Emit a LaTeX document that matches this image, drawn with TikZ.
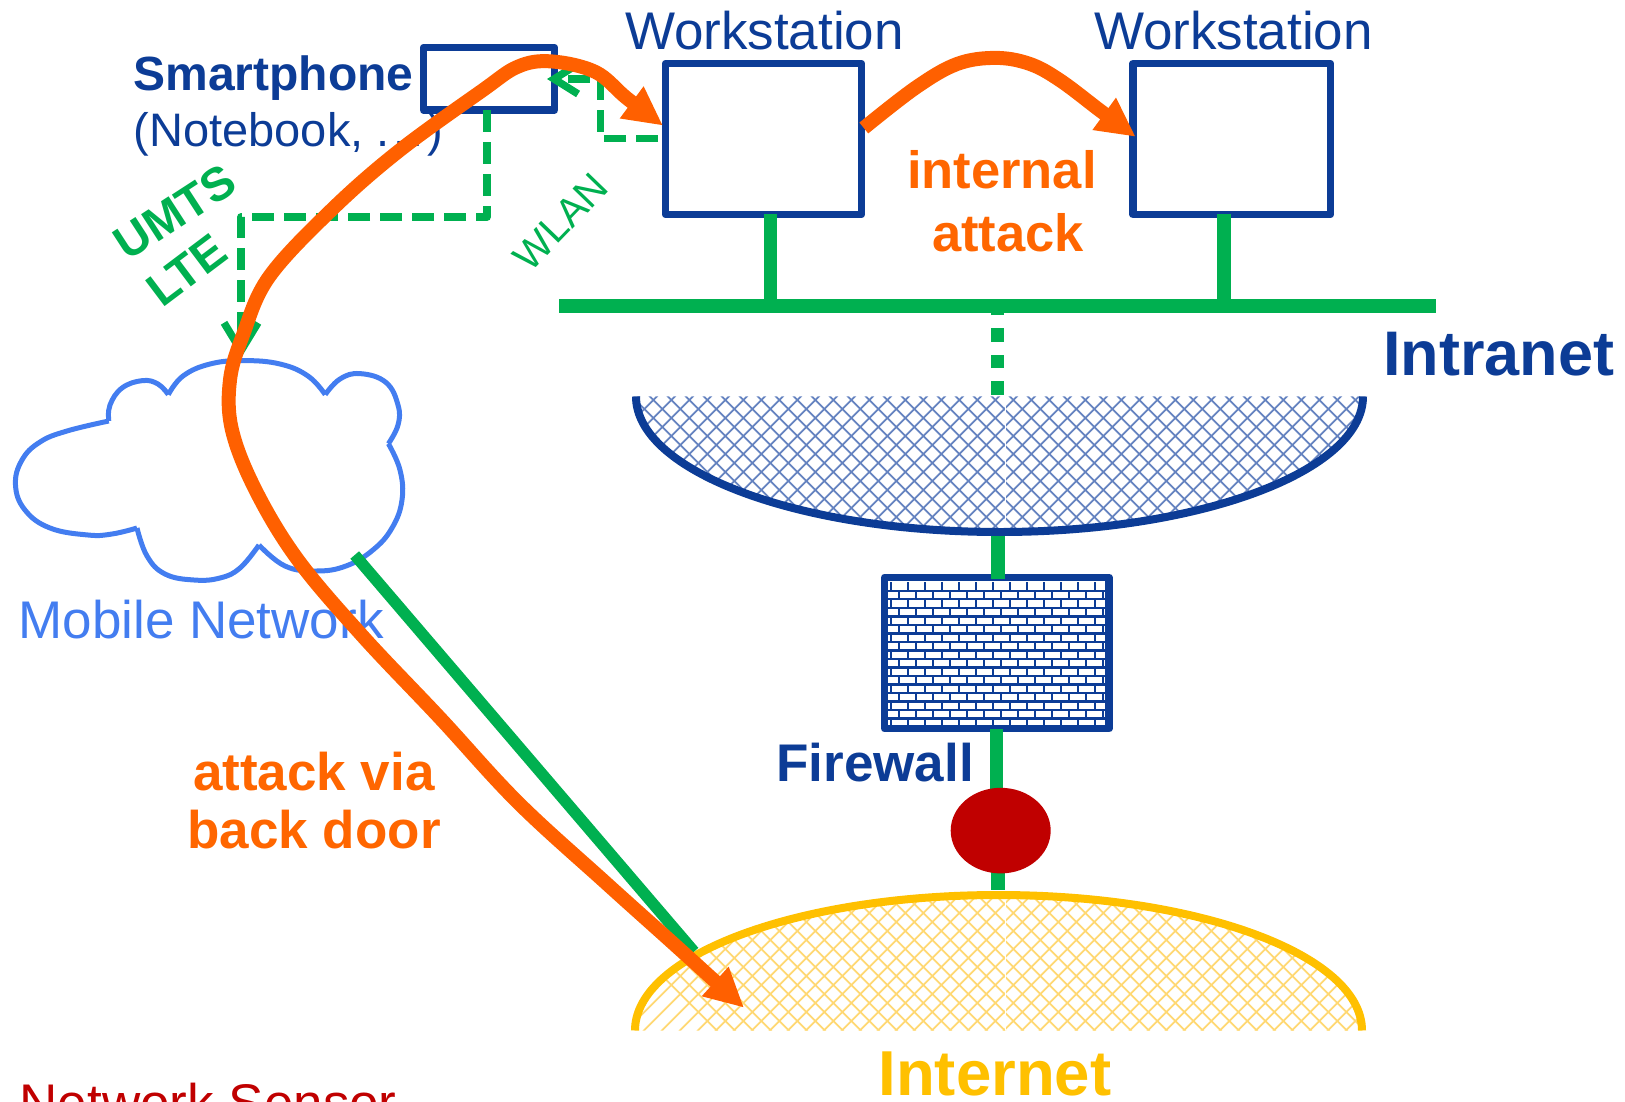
\documentclass[tikz,border=0pt]{standalone}
\usepackage{fontspec}
\setmainfont{Liberation Sans}
\usetikzlibrary{arrows.meta,shapes.geometric}
\definecolor{cblue}{HTML}{0C3C96}
\definecolor{cgreen}{HTML}{00B050}
\definecolor{corange}{HTML}{FF6000}
\definecolor{ctext}{HTML}{FF6600}
\definecolor{cyellow}{HTML}{FFC000}
\definecolor{cred}{HTML}{C00000}
\definecolor{ccloud}{HTML}{437DF0}
\definecolor{chatchb}{HTML}{6583C0}
\definecolor{chatchy}{HTML}{FFD873}
\tikzset{
  lbl/.style={anchor=base west,inner sep=0pt,outer sep=0pt},
  box/.style={draw=cblue,line width=7.5pt,line join=round,inner sep=0pt,outer sep=0pt},
  link/.style={draw=cgreen,line width=13.5pt},
  radio/.style={draw=cgreen,line width=7.5pt,dash pattern=on 22pt off 10pt},
  attack/.style={draw=corange,line width=14pt},
  hatchb/.style={draw=chatchb,line width=1.8pt},
  hatchy/.style={draw=chatchy,line width=1.8pt}
}
\begin{document}
\begin{tikzpicture}[x=1pt,y=-1pt]
\useasboundingbox (0,0) rectangle (1625,1101);
\clip (0,0) rectangle (1625,1101);

% hatched half ellipses
\begin{scope}
\clip (636,396.4) .. controls (636,471.3) and (798.7,532) .. (999.5,532) .. controls (1200.3,532) and (1363,471.3) .. (1363,396.4) -- cycle;
\foreach \k in {-3,...,52}{
  \draw[hatchb] ({1053.3+18*\k-390},390) -- ({1053.3+18*\k-540},540);
  \draw[hatchb] ({253.3+18*\k+390-18},390) -- ({253.3+18*\k+540-18},540);
}
\draw[white,line width=1pt] (1005.5,390) -- (1005.5,540);
\end{scope}
\draw[draw=cblue,line width=8pt] (636,396.4) .. controls (636,471.3) and (798.7,532) .. (999.5,532) .. controls (1200.3,532) and (1363,471.3) .. (1363,396.4);

\begin{scope}
\clip (635,1030.5) .. controls (635,955.1) and (797.7,895) .. (998.5,895) .. controls (1199.3,895) and (1362,955.1) .. (1362,1030.5) -- cycle;
\foreach \k in {-3,...,52}{
  \draw[hatchy] ({1053.3+18*\k-885+495},885) -- ({1053.3+18*\k-1035+495},1035);
  \draw[hatchy] ({253.3+18*\k+885-495-18},885) -- ({253.3+18*\k+1035-495-18},1035);
}
\draw[white,line width=1pt] (1005.5,885) -- (1005.5,1035);
\end{scope}
\draw[draw=cyellow,line width=8pt] (635,1030.5) .. controls (635,955.1) and (797.7,895) .. (998.5,895) .. controls (1199.3,895) and (1362,955.1) .. (1362,1030.5);

% brick wall
\begin{scope}
\clip (885,578) rectangle (1109,728);
\foreach \r in {0,...,17}{
  \pgfmathsetmacro{\yt}{582.2+8.53*\r}
  \pgfmathsetmacro{\yb}{\yt+8.53}
  \draw[cblue,line width=2.4pt] (880,\yb) -- (1115,\yb);
  \pgfmathsetmacro{\xo}{mod(\r,2)==0 ? 890.7 : 899.2}
  \foreach \j in {0,...,13}{
    \draw[cblue,line width=2.4pt] ({\xo+17*\j},\yt) -- ({\xo+17*\j},\yb);
  }
}
\end{scope}

% nodes
\node[box,minimum width=131pt,minimum height=62.5pt] (phone) at (489,78.75) {};
\node[box,minimum width=196pt,minimum height=151pt] (ws1) at (763.5,139) {};
\node[box,minimum width=197.5pt,minimum height=151pt] (ws2) at (1231.75,139) {};
\node[box,minimum width=224.3pt,minimum height=151.4pt] (fw) at (996.85,653) {};
\node[fill=cgreen,minimum width=877pt,minimum height=14pt,inner sep=0pt,outer sep=0pt] (bar) at (997.5,306) {};

% cloud
\draw[draw=ccloud,line width=5pt,line join=round]
  plot[smooth,tension=.7] coordinates {(108.8,421) (110,405) (122,388) (142.4,380.6) (158,384) (168.3,394.6)}
  plot[smooth,tension=.7] coordinates {(168.3,394.6) (183,376) (210,364) (243.4,360.6) (280,364) (308,376) (325.2,394.6)}
  plot[smooth,tension=.7] coordinates {(325.2,394.6) (340,379) (360,373.6) (385.8,382.3) (398,405) (398,425) (388.4,443.7)}
  plot[smooth,tension=.7] coordinates {(388.4,443.7) (400,470) (402,500) (392,528) (372.9,550) (346,566) (316,571) (285,566) (259,545)}
  plot[smooth,tension=.7] coordinates {(259,545) (240,568) (220,578) (194,580) (165,574) (147,556) (137,528)}
  plot[smooth,tension=.7] coordinates {(137,528) (112,534) (88,535) (50,528) (25,510) (15.5,485) (22,460) (40,442) (67,431) (108.8,421)};

% labels
\node[lbl,text=cblue,font=\fontsize{53}{60}\selectfont] (t1) at (625,49) {Workstation};
\node[lbl,text=cblue,font=\fontsize{53}{60}\selectfont] (t2) at (1094,49) {Workstation};
\node[lbl,text=cblue,font=\bfseries\fontsize{48}{55}\selectfont] (t3) at (133.6,90) {Smartphone};
\node[lbl,text=cblue,font=\fontsize{47}{55}\selectfont] (t4) at (133.7,146.6) {(Notebook, .\kern4pt.\kern4pt.\kern4pt)};
\node[rotate=33,inner sep=0pt,text=cgreen,font=\bfseries\fontsize{47}{52}\selectfont] (t5) at (175,212) {UMTS};
\node[rotate=37,inner sep=0pt,text=cgreen,font=\bfseries\fontsize{47}{52}\selectfont] (t6) at (187,270) {LTE};
\node[rotate=46,inner sep=0pt,text=cgreen,font=\fontsize{40}{46}\selectfont] (t7) at (561,222) {WLAN};
\node[lbl,text=ctext,font=\bfseries\fontsize{52.5}{60}\selectfont] (t8) at (907,188.4) {internal};
\node[lbl,text=ctext,font=\bfseries\fontsize{52.5}{60}\selectfont] (t9) at (932,251.8) {attack};
\node[lbl,text=cblue,font=\bfseries\fontsize{63}{70}\selectfont] (t10) at (1383,375) {Intranet};
\node[lbl,text=cblue,font=\bfseries\fontsize{53}{60}\selectfont] (t11) at (776.5,781.5) {Firewall};
\node[lbl,text=cyellow,font=\bfseries\fontsize{63.5}{70}\selectfont] (t12) at (878.5,1095.4) {Internet};
\node[lbl,text=ccloud,font=\fontsize{53}{60}\selectfont] (t13) at (18.5,638.7) {Mobile Network};
\node[lbl,text=ctext,font=\bfseries\fontsize{53}{60}\selectfont] (t14) at (193,790.3) {attack via};
\node[lbl,text=ctext,font=\bfseries\fontsize{53}{60}\selectfont] (t15) at (187.5,848) {back door};
\node[lbl,text=cred,font=\fontsize{53}{60}\selectfont] (t16) at (19.7,1121) {Network Sensor};

% connectors: coordinates
\coordinate (s1) at (770.6,214);
\coordinate (s2) at (1224,214);
\coordinate (d1) at (997.4,394.6);
\coordinate (f0) at (998,536);
\coordinate (f1) at (998,579);
\coordinate (f2) at (996.3,729);
\coordinate (f3) at (998,890);
\coordinate (umts0) at (487,110);
\coordinate (umts1) at (487,217);
\coordinate (umts2) at (241,217);
\coordinate (umts3) at (241,358);
\coordinate (wl0) at (658,138.5);
\coordinate (wl1) at (600.7,138.5);
\coordinate (wl2) at (600.7,79);
\coordinate (wl3) at (547,79);
\coordinate (mob) at (354.7,555);
\coordinate (net) at (694,951.6);
\coordinate (a0) at (663,125.6);
\coordinate (a1) at (744,1007.7);
\coordinate (i0) at (863.8,128);
\coordinate (i1) at (1135.7,136.8);

\draw[link] (s1) -- (s1 |- bar.north);
\draw[link] (s2) -- (s2 |- bar.north);
\draw[draw=cgreen,line width=13pt,dash pattern=on 13.5pt off 13pt] (d1) -- (d1 |- bar.south);
\draw[link] (f0) -- (f1);
\draw[link] (f2) -- (996.3,800);
\draw[link] (998,860) -- (f3);
\node[ellipse,fill=cred,minimum width=100pt,minimum height=85.6pt,inner sep=0pt,outer sep=0pt] (sensor) at (1000.7,830.6) {};

\draw[radio,line join=round,-{Straight Barb[length=28pt,width=34pt,line width=7.5pt]}] (umts0) -- (umts1) -- (umts2) -- (umts3);
\draw[radio,line join=round,-{Straight Barb[length=24pt,width=30pt,line width=7.5pt]}] (wl0) -- (wl1) -- (wl2) -- (wl3);
\draw[draw=cgreen,line width=11.5pt] (mob) -- (net);

\draw[attack,{Triangle[length=39pt,width=37pt]}-{Triangle[length=39pt,width=37pt]}]
  plot[smooth,tension=.6] coordinates {(a1) (675,945) (606,883) (518,802.5) (440,718) (362.5,636) (298,560) (256,491) (232,430) (230,380) (243,335) (269,277) (331.4,210) (398.8,151) (481.6,91) (518,66.6) (551.5,61.4) (595.5,72) (626.6,98) (a0)};
\draw[attack,-{Triangle[length=39pt,width=37pt]}]
  plot[smooth,tension=.6] coordinates {(i0) (915.6,87.7) (957,64) (995.8,57.9) (1030,64) (1060.6,80.7) (1102,112) (i1)};
\end{tikzpicture}
\end{document}
